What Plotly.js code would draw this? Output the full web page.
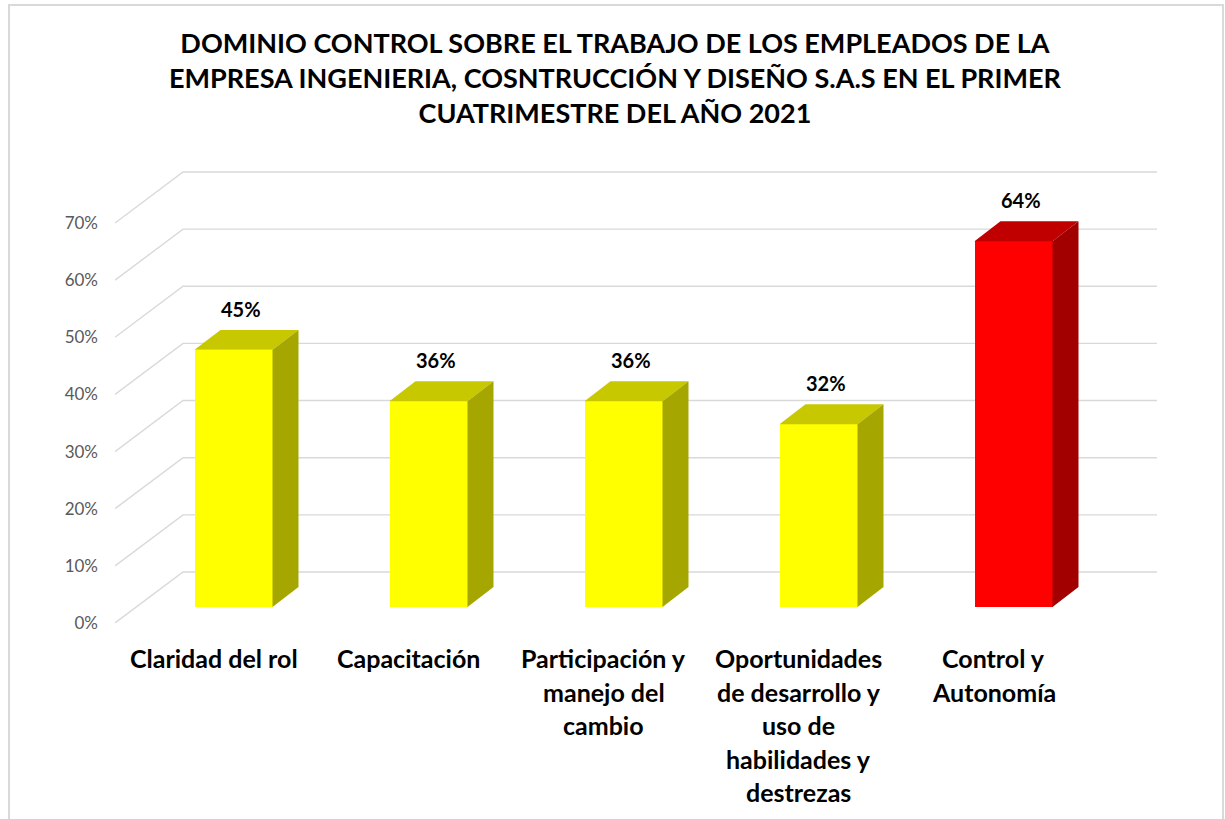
<!DOCTYPE html>
<html>
<head>
<meta charset="utf-8">
<script src="https://cdn.plot.ly/plotly-3.0.1.min.js"></script>
<style>html,body{margin:0;padding:0;background:#fff;}#chart{width:1225px;height:819px;}</style>
</head>
<body>
<div id="chart"></div>
<script>
// ---- data ----
const categories = [
  "Claridad del rol",
  "Capacitación",
  "Participación y<br>manejo del<br>cambio",
  "Oportunidades<br>de desarrollo y<br>uso de<br>habilidades y<br>destrezas",
  "Control y<br>Autonomía"
];
const values = [0.45, 0.36, 0.36, 0.32, 0.64];
const valueLabels = ["45%", "36%", "36%", "32%", "64%"];
const yTicks = [0, 0.1, 0.2, 0.3, 0.4, 0.5, 0.6, 0.7];
const yTickLabels = ["0%", "10%", "20%", "30%", "40%", "50%", "60%", "70%"];
const titleText = "DOMINIO CONTROL SOBRE EL TRABAJO DE LOS EMPLEADOS DE LA<br>EMPRESA INGENIERIA, COSNTRUCCIÓN Y DISEÑO S.A.S EN EL PRIMER<br>CUATRIMESTRE DEL AÑO 2021";

// ---- style / geometry ----
const highlightIndex = 4;
const frontColors = values.map((v, i) => i === highlightIndex ? "#FF0000" : "#FFFF00");
const topColors   = values.map((v, i) => i === highlightIndex ? "#C00000" : "#C8C800");
const sideColors  = values.map((v, i) => i === highlightIndex ? "#A20000" : "#A6A600");
const barW = 0.4;          // front face width (category units)
const depthX = 0.1333;     // bar depth, x
const depthY = 0.035;      // bar depth, y
const xRange = [-0.6077, 4.7359];
const yRange = [-0.04025, 0.7823];
const floorOff = -0.028;   // front edge of floor relative to bar front
const backOff = 0.0613;    // back wall relative to bar front
const wallX = -0.259;      // x where back wall starts
const gridColor = "#D9D9D9";
const FONT = "Lato, 'Open Sans', sans-serif";

const traces = [];
// front faces
traces.push({
  type: "bar", x: values.map((v, i) => i), y: values, width: barW,
  marker: {color: frontColors, line: {width: 0}}, hoverinfo: "skip", showlegend: false
});
// top & side faces
values.forEach((v, i) => {
  const l = i - barW / 2, r = i + barW / 2;
  traces.push({
    type: "scatter", mode: "lines", fill: "toself", fillcolor: topColors[i],
    line: {width: 0, color: topColors[i]}, hoverinfo: "skip", showlegend: false,
    x: [l, l + depthX, r + depthX, r, l],
    y: [v, v + depthY, v + depthY, v, v]
  });
  traces.push({
    type: "scatter", mode: "lines", fill: "toself", fillcolor: sideColors[i],
    line: {width: 0, color: sideColors[i]}, hoverinfo: "skip", showlegend: false,
    x: [r, r, r + depthX, r + depthX, r],
    y: [0, v, v + depthY, depthY, 0]
  });
});

// gridlines (floor edge -> back wall)
const shapes = yTicks.map(t => ({
  type: "path", xref: "x", yref: "y", layer: "below",
  path: `M ${xRange[0]},${t + floorOff} L ${wallX},${t + backOff} L ${xRange[1]},${t + backOff}`,
  line: {color: gridColor, width: 1.4}
}));
// chart border
shapes.push({
  type: "rect", xref: "paper", yref: "paper",
  x0: -0.1017, x1: 1.0633, y0: -0.45, y1: 1.3298,
  line: {color: "#D9D9D9", width: 2}, layer: "below"
});

const annotations = [];
values.forEach((v, i) => {
  annotations.push({
    x: i, y: v + depthY, xref: "x", yref: "y", text: valueLabels[i],
    showarrow: false, xshift: 7, yshift: 21, yanchor: "middle",
    font: {family: FONT, size: 20, color: "#000", weight: 700}
  });
  categories[i].split("<br>").forEach((line, k) => {
    annotations.push({
      x: i, y: 0, xref: "x", yref: "paper", text: line, showarrow: false,
      xshift: -20, yshift: -28 - 33.5 * k, yanchor: "middle", xanchor: "center",
      font: {family: FONT, size: 25, color: "#000", weight: 700}
    });
  });
});

const layout = {
  width: 1225, height: 819,
  paper_bgcolor: "#fff", plot_bgcolor: "rgba(0,0,0,0)",
  margin: {l: 115, r: 68, t: 160, b: 189},
  title: {
    text: titleText, x: 0.502, xanchor: "center", y: 0.935, yanchor: "top",
    font: {family: FONT, size: 27, color: "#000", weight: 700}
  },
  xaxis: {range: xRange, showgrid: false, zeroline: false, showticklabels: false, showline: false, fixedrange: true},
  yaxis: {
    range: yRange, showgrid: false, zeroline: false, showline: false,
    tickmode: "array", tickvals: yTicks.map(t => t + floorOff), ticktext: yTickLabels,
    ticks: "", ticklabelstandoff: 16,
    tickfont: {family: FONT, size: 17, color: "#595959"}, fixedrange: true
  },
  shapes: shapes,
  annotations: annotations,
  showlegend: false,
  bargap: 0
};

Plotly.newPlot("chart", traces, layout, {displayModeBar: false, staticPlot: true});
</script>
</body>
</html>
